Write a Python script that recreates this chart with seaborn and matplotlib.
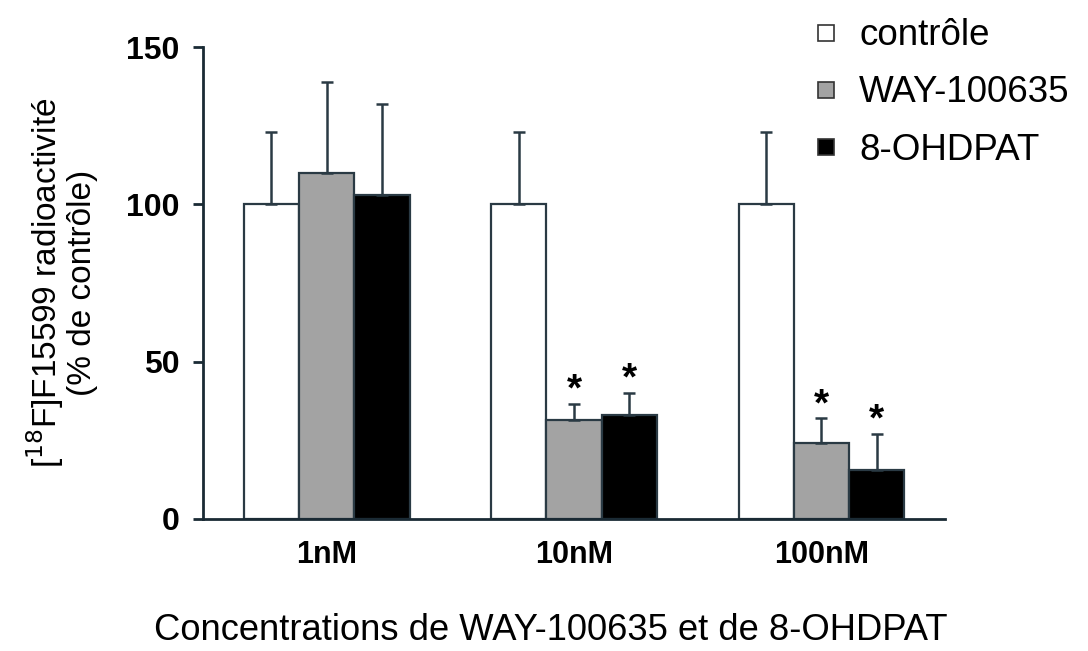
import matplotlib
matplotlib.use('Agg')
import matplotlib.pyplot as plt
from matplotlib.lines import Line2D
import pandas as pd
import seaborn as sns

# values (% of control)
concentrations = ['1nM', '10nM', '100nM']
groups = ['contrôle', 'WAY-100635', '8-OHDPAT']
controle = [100, 100, 100]
controle_err = [23, 23, 23]
way = [110, 31.5, 24]
way_err = [29, 5, 8]
ohdpat = [103, 33, 15.5]
ohdpat_err = [29, 7, 11.5]
# asterisk on significant bars (group index, concentration index)
signif = [(1, 1), (2, 1), (1, 2), (2, 2)]

sns.set_style('ticks')
plt.rcParams['font.family'] = ['Liberation Sans', 'DejaVu Sans']
plt.rcParams['text.color'] = 'black'
plt.rcParams['axes.labelcolor'] = 'black'
plt.rcParams['xtick.color'] = 'black'
plt.rcParams['ytick.color'] = 'black'

df = pd.DataFrame({
    'conc': concentrations * 3,
    'group': [g for g in groups for _ in concentrations],
    'val': controle + way + ohdpat,
})
errs = [controle_err, way_err, ohdpat_err]

palette = {'contrôle': 'white', 'WAY-100635': '#a3a3a3', '8-OHDPAT': 'black'}

fig = plt.figure(figsize=(10.88, 6.51), dpi=100)
ax = fig.add_axes([0.1866, 0.2028, 0.682, 0.725])

sns.barplot(data=df, x='conc', y='val', hue='group', hue_order=groups,
            order=concentrations, palette=palette, edgecolor='#2a3a44',
            linewidth=1.6, width=0.67, errorbar=None, legend=False, ax=ax)

# error bars (upper only) from the drawn bar positions
bar_conts = list(ax.containers)
for gi, cont in enumerate(bar_conts):
    for ci, bar in enumerate(cont.patches):
        xc = bar.get_x() + bar.get_width() / 2
        top = bar.get_height()
        ax.errorbar(xc, top, yerr=[[0], [errs[gi][ci]]], fmt='none',
                    ecolor='#2a3a44', elinewidth=1.8, capsize=4, capthick=1.8)
        if (gi, ci) in signif:
            ax.text(xc, top + errs[gi][ci] - 1.5, '*', ha='center', va='bottom',
                    fontsize=28, fontweight='bold', color='black')

ax.set_xlim(-0.5, 2.5)
ax.set_ylim(0, 150)
ax.set_yticks([0, 50, 100, 150])
ax.spines['top'].set_visible(False)
ax.spines['right'].set_visible(False)
ax.spines['left'].set_linewidth(2)
ax.spines['bottom'].set_linewidth(2)
ax.spines['left'].set_color('#1a2a34')
ax.spines['bottom'].set_color('#1a2a34')
ax.tick_params(axis='y', length=7, width=2, labelsize=23, pad=10, color='#1a2a34')
ax.tick_params(axis='x', length=0, labelsize=22, pad=15)
for lab in ax.get_xticklabels() + ax.get_yticklabels():
    lab.set_fontweight('bold')

ax.set_xlabel('Concentrations de WAY-100635 et de 8-OHDPAT', fontsize=26.2,
              labelpad=31, x=0.469)
ax.set_ylabel('[$^{18}$F]F15599 radioactivité\n(% de contrôle)', fontsize=24,
              labelpad=20, linespacing=1.05)

handles = [Line2D([], [], marker='s', linestyle='none', markersize=11,
                  markerfacecolor=palette[g], markeredgecolor='#333333',
                  markeredgewidth=1.2) for g in groups]
fig.legend(handles, groups, loc='upper right', bbox_to_anchor=(1.0, 1.0),
           frameon=False, fontsize=26.5, handletextpad=0.45, labelspacing=0.6,
           handlelength=0.9, borderaxespad=0.3, borderpad=0.2)

fig.savefig('out.png', dpi=100)
